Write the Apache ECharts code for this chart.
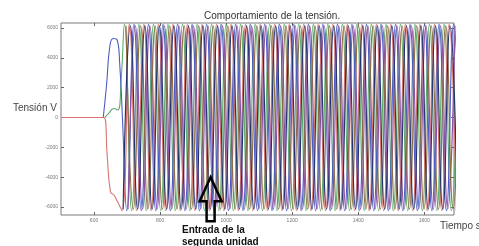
<!DOCTYPE html>
<html>
<head>
<meta charset="utf-8">
<title>Comportamiento de la tensión</title>
<script src="https://cdn.jsdelivr.net/npm/echarts@6/dist/echarts.min.js"></script>
<style>
  html, body { margin: 0; padding: 0; background: #fff; }
  #main { width: 479px; height: 246px; }
</style>
</head>
<body>
<div id="main"></div>
<script type="text/javascript">
// ticks de los ejes
var xTicks = [600, 800, 1000, 1200, 1400, 1600];
var yTicks = [6000, 4000, 2000, 0, -2000, -4000, -6000];

// arranque de la primera unidad [tiempo, tension]
var azulArranque = [[628, 0], [638, 2200], [648, 4800], [658, 5300], [670, 5200], [678, 3500], [686, 0]];
var verdeArranque = [[632, 0], [645, 300], [660, 600], [672, 500], [682, 2500]];
var rojoArranque = [[500, 0], [630, 0], [640, -2600], [650, -5000], [660, -5200], [670, -5600]];

// instantes de los extremos (maximo / minimo alternados)
var azulPicos = [699, 721, 743, 765, 787, 809, 831, 853, 875, 897, 919, 941, 963, 985, 1007, 1029, 1051, 1073, 1095, 1117, 1139, 1161, 1183, 1205, 1227, 1249, 1271, 1293, 1315, 1337, 1359, 1381, 1403, 1425, 1447, 1469, 1491, 1513, 1535, 1557, 1579, 1601, 1623, 1645, 1667, 1689, 1711];
var verdePicos = [692, 714, 736, 758, 780, 802, 824, 846, 868, 890, 912, 934, 956, 978, 1000, 1022, 1044, 1066, 1088, 1110, 1132, 1154, 1176, 1198, 1220, 1242, 1264, 1286, 1308, 1330, 1352, 1374, 1396, 1418, 1440, 1462, 1484, 1506, 1528, 1550, 1572, 1594, 1616, 1638, 1660, 1682, 1704];
var rojoPicos = [685, 707, 729, 751, 773, 795, 817, 839, 861, 883, 905, 927, 949, 971, 993, 1015, 1037, 1059, 1081, 1103, 1125, 1147, 1169, 1191, 1213, 1235, 1257, 1279, 1301, 1323, 1345, 1367, 1389, 1411, 1433, 1455, 1477, 1499, 1521, 1543, 1565, 1587, 1609, 1631, 1653, 1675, 1697];
var moradoPicos = [703, 725, 747, 769, 791, 813, 835, 857, 879, 901, 923, 945, 967, 989, 1011, 1033, 1055, 1077, 1099, 1121, 1143, 1165, 1187, 1209, 1231, 1253, 1275, 1297, 1319, 1341, 1363, 1385, 1407, 1429, 1451, 1473, 1495, 1517, 1539, 1561, 1583, 1605, 1627, 1649, 1671, 1693];
var marronPicos = [697, 719, 741, 763, 785, 807, 829, 851, 873, 895, 917, 939, 961, 983, 1005, 1027, 1049, 1071, 1093, 1115, 1137, 1159, 1181, 1203, 1225, 1247, 1269, 1291, 1313, 1335, 1357, 1379, 1401, 1423, 1445, 1467, 1489, 1511, 1533, 1555, 1577, 1599, 1621, 1643, 1665, 1687, 1709];
var marinoPicos = [688, 710, 732, 754, 776, 798, 820, 842, 864, 886, 908, 930, 952, 974, 996, 1018, 1040, 1062, 1084, 1106, 1128, 1150, 1172, 1194, 1216, 1238, 1260, 1282, 1304, 1326, 1348, 1370, 1392, 1414, 1436, 1458, 1480, 1502, 1524, 1546, 1568, 1590, 1612, 1634, 1656, 1678, 1700];

var picoU1 = 6250;
var picoU2 = 6150;

function serie(nombre, color, arranque, picos, signo, amp) {
    var data = arranque.slice();
    for (var i = 0; i < picos.length; i++) {
        data.push([picos[i], (i % 2 === 0 ? signo : -signo) * amp]);
    }
    return {
        name: nombre,
        type: 'line',
        data: data,
        smooth: 0.5,
        showSymbol: false,
        animation: false,
        lineStyle: { color: color, width: 1.1 }
    };
}

var myChart = echarts.init(document.getElementById('main'));

var axisTxt = { fontSize: 5, color: '#777', fontFamily: 'Liberation Sans', formatter: function (v) { return String(v); } };

var option = {
    animation: false,
    title: {
        text: 'Comportamiento de la tensión.',
        left: 199,
        top: 6,
        textStyle: { fontSize: 10, fontWeight: 'normal', color: '#333', fontFamily: 'Liberation Sans' }
    },
    grid: {
        left: 61, top: 23, width: 393, height: 192,
        show: true, borderColor: '#7a7a7a', borderWidth: 1
    },
    xAxis: [{
        type: 'value', min: 500, max: 1690,
        axisLine: { show: false, onZero: false },
        splitLine: { show: false },
        axisTick: { inside: true, length: 3, customValues: xTicks, lineStyle: { color: '#666' } },
        axisLabel: Object.assign({ customValues: xTicks, margin: 3 }, axisTxt)
    }, {
        type: 'value', min: 500, max: 1690, position: 'top',
        axisLine: { show: false, onZero: false },
        splitLine: { show: false },
        axisTick: { inside: true, length: 3, customValues: xTicks, lineStyle: { color: '#666' } },
        axisLabel: { show: false }
    }],
    yAxis: [{
        type: 'value', min: -6540, max: 6340,
        axisLine: { show: false, onZero: false },
        splitLine: { show: false },
        axisTick: { show: true, inside: true, length: 3, customValues: yTicks, lineStyle: { color: '#666' } },
        axisLabel: Object.assign({ customValues: yTicks, margin: 3 }, axisTxt)
    }, {
        type: 'value', min: -6540, max: 6340, position: 'right',
        axisLine: { show: false, onZero: false },
        splitLine: { show: false },
        axisTick: { show: true, inside: true, length: 3, customValues: yTicks, lineStyle: { color: '#666' } },
        axisLabel: { show: false }
    }],
    series: [
        serie('Fase B', '#5aad6b', verdeArranque, verdePicos, 1, picoU1),
        serie('Fase A', '#4b5cc4', azulArranque, azulPicos, -1, picoU1),
        serie('Fase C', '#d8736e', rojoArranque, rojoPicos, -1, picoU1),
        serie('Fase A2', '#8b52a3', [], moradoPicos, -1, picoU2),
        serie('Fase B2', '#8e6c45', [], marronPicos, 1, picoU2),
        serie('Fase C2', '#25336f', [], marinoPicos, -1, picoU2)
    ]
};
myChart.setOption(option);

// flecha y textos
var tip = myChart.convertToPixel({ xAxisIndex: 0, yAxisIndex: 0 }, [953, -4000]);
var tx = tip[0], ty = tip[1];
myChart.setOption({
    graphic: [{
        type: 'polygon',
        z: 100,
        shape: {
            points: [[tx, ty], [tx + 11, ty + 24], [tx + 4, ty + 24], [tx + 4, ty + 44],
                     [tx - 4, ty + 44], [tx - 4, ty + 24], [tx - 11, ty + 24]]
        },
        style: { fill: 'none', stroke: '#000', lineWidth: 2.5 }
    }, {
        type: 'text', left: 182, top: 224, z: 100,
        style: {
            text: 'Entrada de la\nsegunda unidad',
            font: 'bold 10px "Liberation Sans"',
            fill: '#111', lineHeight: 12
        }
    }, {
        type: 'text', left: 13, top: 103, z: 100,
        style: { text: 'Tensión V', font: '10px "Liberation Sans"', fill: '#444' }
    }, {
        type: 'text', left: 440, top: 221, z: 100,
        style: { text: 'Tiempo s', font: '10px "Liberation Sans"', fill: '#444' }
    }]
});
</script>
</body>
</html>
